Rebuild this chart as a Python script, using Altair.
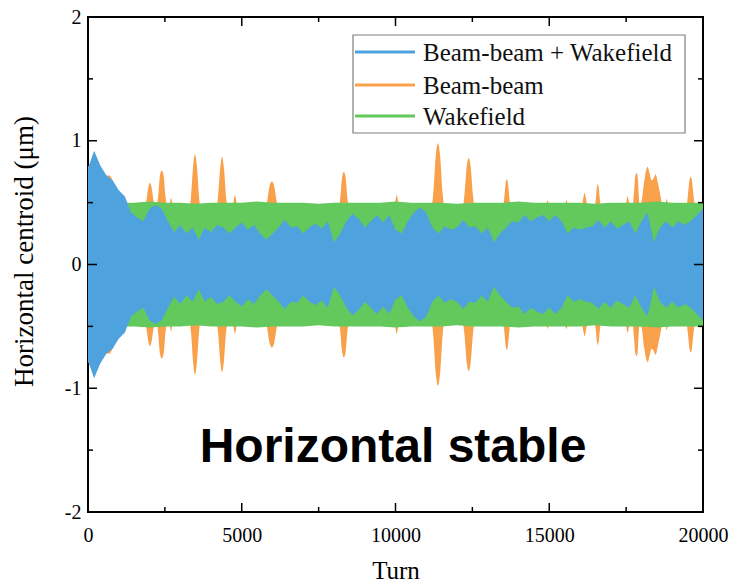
import altair as alt
import pandas as pd

# ---------------- data ----------------
series_names = ["Beam-beam + Wakefield", "Beam-beam", "Wakefield"]
series_colors = ["#4ea3df", "#f9a04a", "#63c95c"]

# Beam-beam + Wakefield: envelope amplitude (um) every 200 turns
blue_turns = list(range(0, 20001, 200))
blue_amp = [
    0.78, 0.92, 0.80, 0.72, 0.68,
    0.60, 0.55, 0.42, 0.38, 0.35,
    0.45, 0.48, 0.45, 0.35, 0.26,
    0.32, 0.25, 0.30, 0.20, 0.30,
    0.26, 0.32, 0.30, 0.25, 0.30,
    0.34, 0.28, 0.32, 0.25, 0.20,
    0.25, 0.30, 0.36, 0.30, 0.31,
    0.25, 0.30, 0.33, 0.29, 0.35,
    0.18, 0.25, 0.35, 0.41, 0.37,
    0.30, 0.35, 0.40, 0.34, 0.40,
    0.28, 0.25, 0.35, 0.42, 0.46,
    0.42, 0.30, 0.25, 0.31, 0.28,
    0.30, 0.36, 0.30, 0.31, 0.25,
    0.30, 0.18, 0.25, 0.30, 0.35,
    0.34, 0.40, 0.35, 0.38, 0.40,
    0.35, 0.40, 0.35, 0.25, 0.30,
    0.28, 0.30, 0.31, 0.36, 0.30,
    0.35, 0.29, 0.32, 0.35, 0.25,
    0.35, 0.42, 0.18, 0.30, 0.35,
    0.30, 0.35, 0.32, 0.35, 0.40,
    0.45,
]

# Wakefield: envelope amplitude every 500 turns
green_turns = list(range(0, 20001, 500))
green_amp = [
    0.50, 0.50, 0.50, 0.50, 0.51, 0.50, 0.50, 0.49, 0.50, 0.50,
    0.50, 0.51, 0.50, 0.50, 0.50, 0.49, 0.50, 0.50, 0.50, 0.50,
    0.51, 0.50, 0.50, 0.50, 0.49, 0.50, 0.50, 0.50, 0.51, 0.50,
    0.50, 0.50, 0.50, 0.49, 0.50, 0.50, 0.50, 0.51, 0.50, 0.50,
    0.50,
]

# Beam-beam: envelope with bursts (rounded peaks)
orange_turns = [
    0, 300, 700, 900, 1100,
    1830, 1900, 1960, 2015, 2070, 2130, 2200,
    2210, 2280, 2340, 2400, 2460, 2520, 2590,
    2630, 2700, 2770,
    3290, 3350, 3420, 3480, 3540, 3610, 3670,
    4170, 4230, 4300, 4360, 4420, 4490, 4550,
    4690, 4780, 4870,
    5760, 5830, 5910, 5980, 6050, 6130, 6200,
    8140, 8200, 8260, 8320, 8380, 8440, 8500,
    9950, 10040, 10130,
    11160, 11230, 11310, 11380, 11450, 11530, 11600,
    12180, 12240, 12320, 12380, 12440, 12520, 12580,
    13470, 13530, 13580, 13620, 13660, 13710, 13770,
    14880, 14950, 15020,
    15480, 15560, 15640,
    16040, 16110, 16150, 16190, 16260,
    16450, 16510, 16550, 16580, 16610, 16650, 16710,
    17460, 17550, 17640,
    17700, 17760, 17800, 17840, 17880, 17930,
    17990, 18080, 18150, 18200, 18260, 18330, 18400, 18460, 18530, 18620, 18700,
    18750, 18820, 18890,
    19450, 19510, 19560, 19600, 19640, 19690, 19750,
    20000,
]
orange_amp = [
    0.80, 0.72, 0.72, 0.60, 0.45,
    0.45, 0.52, 0.62, 0.66, 0.62, 0.52, 0.45,
    0.45, 0.55, 0.72, 0.76, 0.72, 0.55, 0.45,
    0.45, 0.54, 0.45,
    0.45, 0.55, 0.80, 0.89, 0.80, 0.55, 0.45,
    0.45, 0.55, 0.78, 0.87, 0.78, 0.55, 0.45,
    0.45, 0.56, 0.45,
    0.45, 0.52, 0.64, 0.67, 0.64, 0.52, 0.45,
    0.45, 0.53, 0.70, 0.75, 0.70, 0.53, 0.45,
    0.45, 0.56, 0.45,
    0.45, 0.58, 0.88, 0.98, 0.88, 0.58, 0.45,
    0.45, 0.56, 0.80, 0.86, 0.80, 0.56, 0.45,
    0.45, 0.52, 0.65, 0.69, 0.65, 0.52, 0.45,
    0.45, 0.52, 0.45,
    0.45, 0.52, 0.45,
    0.45, 0.54, 0.58, 0.54, 0.45,
    0.45, 0.52, 0.62, 0.65, 0.62, 0.52, 0.45,
    0.45, 0.55, 0.45,
    0.45, 0.60, 0.72, 0.74, 0.70, 0.50,
    0.50, 0.66, 0.76, 0.79, 0.74, 0.68, 0.70, 0.73, 0.66, 0.55, 0.45,
    0.45, 0.53, 0.45,
    0.45, 0.56, 0.68, 0.71, 0.68, 0.56, 0.45,
    0.45,
]

x_major = [0, 5000, 10000, 15000, 20000]
x_minor = [2500, 7500, 12500, 17500]
y_major = [-2, -1, 0, 1, 2]
y_minor = [-1.5, -0.5, 0.5, 1.5]

annotation = ["Horizontal stable"]

# ---------------- chart ----------------
W, H = 615, 495
xs = alt.Scale(domain=[0, 20000], nice=False, zero=False)
ys = alt.Scale(domain=[-2, 2], nice=False, zero=False)

SERIF = "Liberation Serif"

x_axis = alt.Axis(
    title="Turn", values=x_major, format="d", ticks=False, domain=False, grid=False,
    labelFlush=False, labelOverlap=False,
    labelFont=SERIF, labelFontSize=20, labelColor="black", labelPadding=13,
    titleFont=SERIF, titleFontSize=25, titleFontWeight="normal", titleColor="black",
    titleY=66, titleBaseline="alphabetic",
)
y_axis = alt.Axis(
    title="Horizontal centroid (μm)", values=y_major, ticks=False, domain=False, grid=False,
    labelFlush=False, labelOverlap=False,
    labelExpr="datum.value < 0 ? '-' + abs(datum.value) : '' + datum.value",
    labelFont=SERIF, labelFontSize=20, labelColor="black", labelPadding=7,
    titleFont=SERIF, titleFontSize=27, titleFontWeight="normal", titleColor="black",
    titleX=-64, titleY=234, titleAngle=-90, titleAlign="center", titleBaseline="middle",
)


def band(turns, amps, color, interp):
    df = pd.DataFrame({"turn": turns, "hi": amps, "lo": [-a for a in amps]})
    return alt.Chart(df).mark_area(color=color, opacity=1, interpolate=interp).encode(
        x=alt.X("turn:Q", scale=xs, axis=x_axis),
        y=alt.Y("hi:Q", scale=ys, axis=y_axis),
        y2="lo:Q",
    )


orange = band(orange_turns, orange_amp, series_colors[1], "monotone")
green = band(green_turns, green_amp, series_colors[2], "linear")
blue = band(blue_turns, blue_amp, series_colors[0], "linear")


def xticks(vals, length):
    d = pd.DataFrame({"turn": vals})
    b = alt.Chart(d).mark_rule(color="black", strokeWidth=1.5).encode(
        x=alt.X("turn:Q", scale=xs, axis=x_axis), y=alt.value(H), y2=alt.value(H - length))
    t = alt.Chart(d).mark_rule(color="black", strokeWidth=1.5).encode(
        x=alt.X("turn:Q", scale=xs, axis=x_axis), y=alt.value(0), y2=alt.value(length))
    return [b, t]


def yticks(vals, length):
    d = pd.DataFrame({"hi": vals})
    l = alt.Chart(d).mark_rule(color="black", strokeWidth=1.5).encode(
        y=alt.Y("hi:Q", scale=ys, axis=y_axis), x=alt.value(0), x2=alt.value(length))
    r = alt.Chart(d).mark_rule(color="black", strokeWidth=1.5).encode(
        y=alt.Y("hi:Q", scale=ys, axis=y_axis), x=alt.value(W), x2=alt.value(W - length))
    return [l, r]


ticks = xticks(x_major, 9) + xticks(x_minor, 5) + yticks(y_major, 9) + yticks(y_minor, 5)

# legend (drawn manually to match the framed line legend)
leg_box = alt.Chart(pd.DataFrame({"k": [0]})).mark_rect(
    fill="white", stroke="#7f7f7f", strokeWidth=1.2).encode(
    x=alt.value(265), x2=alt.value(597), y=alt.value(18), y2=alt.value(116))

leg_layers = [leg_box]
leg_y = [35, 68, 99]
for name, color, yy in zip(series_names, series_colors, leg_y):
    d = pd.DataFrame({"label": [name]})
    leg_layers.append(alt.Chart(d).mark_rule(color=color, strokeWidth=3).encode(
        x=alt.value(267), x2=alt.value(327), y=alt.value(yy)))
    leg_layers.append(alt.Chart(d).mark_text(
        font=SERIF, fontSize=25, align="left", baseline="middle", color="#111111").encode(
        x=alt.value(335), y=alt.value(yy + 1), text="label:N"))

label = alt.Chart(pd.DataFrame({"label": annotation})).mark_text(
    font="Liberation Sans", fontSize=48, fontWeight="bold", align="center",
    baseline="alphabetic", color="black").encode(
    x=alt.value(305), y=alt.value(445), text="label:N")

chart = alt.layer(orange, green, blue, *ticks, *leg_layers, label).properties(
    width=W, height=H,
    background="white",
    padding={"left": 88, "top": 17, "right": 27, "bottom": 70},
    autosize=alt.AutoSizeParams(type="none"),
).configure_view(stroke="black", strokeWidth=2)

chart.save("out.html", embed_options={"renderer": "svg", "actions": False})
